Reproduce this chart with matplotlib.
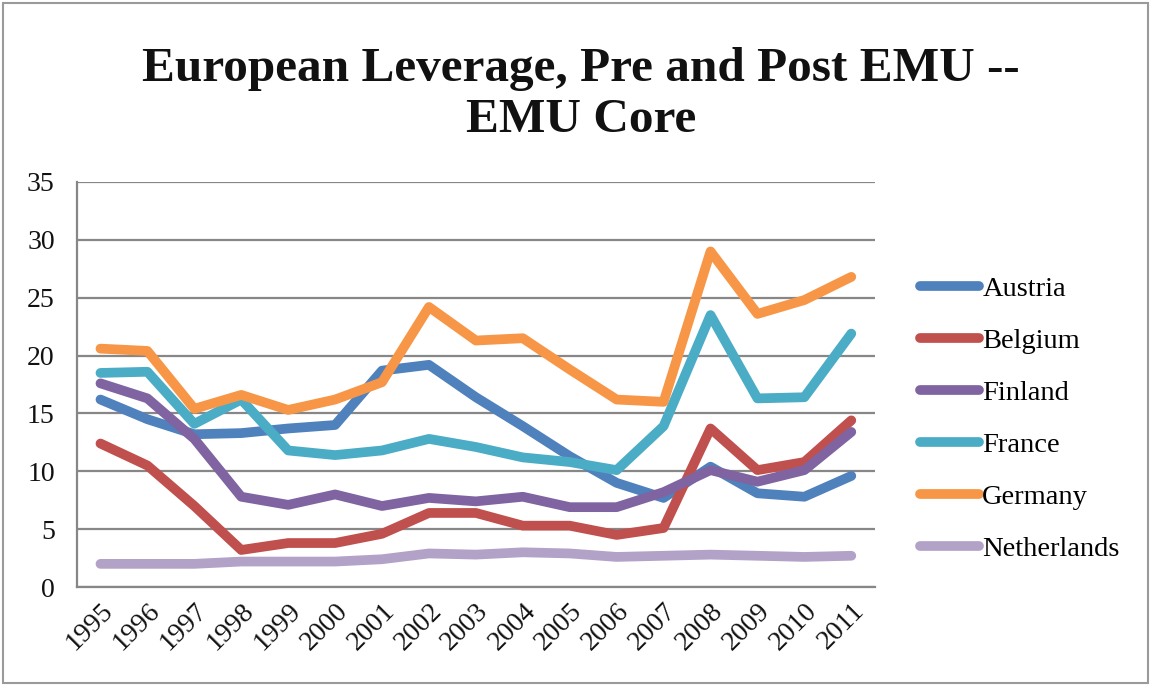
import matplotlib.pyplot as plt
from matplotlib.patches import Rectangle

years = ['1995', '1996', '1997', '1998', '1999', '2000', '2001', '2002', '2003',
         '2004', '2005', '2006', '2007', '2008', '2009', '2010', '2011']

austria = [16.2, 14.5, 13.2, 13.3, 13.7, 14.0, 18.7, 19.2, 16.4, 13.9, 11.3, 9.0, 7.7, 10.4, 8.1, 7.8, 9.6]
belgium = [12.4, 10.5, 7.0, 3.2, 3.8, 3.8, 4.6, 6.4, 6.4, 5.3, 5.3, 4.5, 5.1, 13.7, 10.1, 10.8, 14.4]
finland = [17.6, 16.3, 12.8, 7.8, 7.1, 8.0, 7.0, 7.7, 7.4, 7.8, 6.9, 6.9, 8.2, 10.1, 9.1, 10.1, 13.4]
france = [18.5, 18.6, 14.1, 16.2, 11.8, 11.4, 11.8, 12.8, 12.1, 11.2, 10.8, 10.1, 13.9, 23.5, 16.3, 16.4, 21.9]
germany = [20.6, 20.4, 15.4, 16.6, 15.3, 16.2, 17.7, 24.2, 21.3, 21.5, 18.8, 16.2, 16.0, 29.0, 23.6, 24.8, 26.8]
netherlands = [2.0, 2.0, 2.0, 2.2, 2.2, 2.2, 2.4, 2.9, 2.8, 3.0, 2.9, 2.6, 2.7, 2.8, 2.7, 2.6, 2.7]

names = ['Austria', 'Belgium', 'Finland', 'France', 'Germany', 'Netherlands']
series = [austria, belgium, finland, france, germany, netherlands]
colors = ['#4f81bd', '#c0504d', '#8064a2', '#4bacc6', '#f79646', '#b3a2c7']

plt.rcParams['font.family'] = ['Liberation Serif', 'DejaVu Serif']

fig = plt.figure(figsize=(11.51, 6.86), dpi=100)
ax = fig.add_axes([0.0669, 0.1443, 0.6931, 0.5904])

x = range(len(years))
for name, vals, c in zip(names, series, colors):
    ax.plot(x, vals, color=c, lw=7, label=name,
            solid_capstyle='round', solid_joinstyle='round')

ax.set_xlim(-0.5, len(years) - 0.5)
ax.set_ylim(0, 35)
ax.set_yticks(range(0, 36, 5))
ax.set_xticks(list(x))
ax.set_xticklabels(years, rotation=45, ha='right', rotation_mode='anchor')
ax.tick_params(axis='both', length=0, labelsize=20, colors='#111111')
ax.tick_params(axis='y', pad=16)
ax.tick_params(axis='x', pad=8)
ax.yaxis.grid(True, color='#878787', lw=1.6)
ax.set_axisbelow(True)
for s in ['top', 'right']:
    ax.spines[s].set_visible(False)
for s in ['left', 'bottom']:
    ax.spines[s].set_color('#878787')
    ax.spines[s].set_linewidth(1.6)

fig.text(0.505, 0.862, 'European Leverage, Pre and Post EMU --\nEMU Core',
         ha='center', va='center', fontsize=35.5, fontweight='bold',
         linespacing=1.22, color='#111111')

leg = fig.legend(loc='center left', bbox_to_anchor=(0.799, 0.389), frameon=False,
                 fontsize=20.5, handlelength=2.1, handletextpad=0.1,
                 labelspacing=0.92, borderpad=0, borderaxespad=0)

fig.patches.append(Rectangle((3 / 1151, 3 / 686), 1145 / 1151, 680 / 686,
                             transform=fig.transFigure, fill=False,
                             edgecolor='#9a9a9a', lw=1.5))

fig.savefig('out.png', dpi=100)
